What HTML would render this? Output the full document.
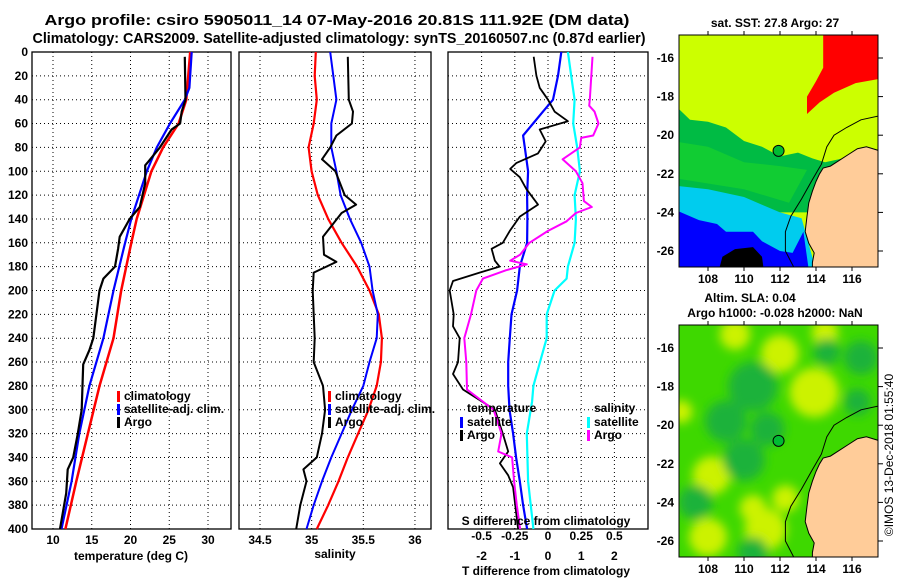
<!DOCTYPE html>
<html><head><meta charset="utf-8"><style>
body{margin:0;background:#fff}
svg{display:block;font-family:"Liberation Sans",sans-serif;font-weight:bold}
</style></head><body>
<svg id="c" width="900" height="580" viewBox="0 0 900 580">
<defs><filter id="blur" x="-50%" y="-50%" width="200%" height="200%"><feGaussianBlur stdDeviation="5"/></filter>
<clipPath id="clip1"><rect x="679" y="35" width="199" height="232"/></clipPath>
<clipPath id="clip2"><rect x="679" y="325" width="199" height="232"/></clipPath></defs>
<text x="337" y="25" font-size="15" text-anchor="middle" textLength="585" lengthAdjust="spacingAndGlyphs">Argo profile: csiro 5905011_14 07-May-2016 20.81S 111.92E (DM data)</text>
<text x="339" y="43" font-size="15" text-anchor="middle" textLength="613" lengthAdjust="spacingAndGlyphs">Climatology: CARS2009. Satellite-adjusted climatology: synTS_20160507.nc (0.87d earlier)</text>
</svg>
<script>
// ---- data ----
const tClimDepth=[0,40,60,80,100,140,160,200,240,280,320,360,400];
const tClimVal=[27.7,27.2,26.2,24.2,22.7,20.8,20.1,18.8,17.8,16.0,14.5,13.0,11.6];
const tSatDepth=[0,30,40,60,80,100,140,160,200,240,280,320,360,400];
const tSatVal=[27.9,27.6,27.0,25.1,23.4,22.1,20.1,19.3,17.8,16.5,14.7,13.4,12.4,11.1];
const tArgoDepth=[4,40,50,60,65,80,92,95,110,130,140,155,165,180,190,200,220,240,250,262,300,320,340,350,370,400];
const tArgoVal=[27.0,27.1,26.6,26.4,25.3,23.8,22.3,21.9,21.9,21.2,19.9,18.6,18.4,18.0,16.5,16.0,15.6,15.2,14.7,13.9,13.7,13.2,12.6,11.9,11.7,10.9];
const sDepth=[0,20,40,60,80,100,120,140,160,180,200,220,240,260,280,300,320,340,360,380,400];
const sClimVal=[35.04,35.03,35.05,35.02,34.97,35.0,35.06,35.16,35.29,35.44,35.56,35.65,35.68,35.67,35.63,35.55,35.45,35.35,35.26,35.16,35.05];
const sSatVal=[35.18,35.21,35.24,35.19,35.19,35.24,35.28,35.37,35.48,35.56,35.59,35.64,35.63,35.56,35.5,35.39,35.29,35.19,35.1,35.02,34.95];
const sArgoDepth=[4,40,50,60,70,80,90,100,120,128,135,145,155,170,176,185,200,240,260,280,300,320,340,350,360,380,400];
const sArgoVal=[35.35,35.36,35.4,35.39,35.24,35.18,35.10,35.23,35.32,35.43,35.29,35.2,35.11,35.12,35.24,35.02,35.01,35.03,35.02,35.11,35.13,35.10,35.05,34.92,34.95,34.89,34.85];
const dTSatDepth=[0,20,40,50,60,70,80,100,120,140,160,180,200,220,240,260,280,300,320,340,360,380,400];
const dTSatVal=[0.40,0.30,0.15,-0.15,-0.45,-0.75,-0.70,-0.60,-0.63,-0.62,-0.63,-0.85,-0.93,-1.1,-1.15,-1.2,-1.2,-1.16,-1.05,-0.96,-0.85,-0.75,-0.63];
const dTArgoDepth=[4,20,30,40,50,58,65,75,85,93,98,105,115,128,138,150,160,165,175,180,185,192,200,220,230,240,260,270,283,300,320,335,345,355,365,400];
const dTArgoVal=[-0.43,-0.35,-0.25,0,0.2,0.6,-0.25,-0.07,-0.3,-0.95,-1.14,-0.85,-0.65,-0.3,-0.85,-1.15,-1.36,-1.7,-1.6,-1.46,-2.06,-2.86,-2.96,-2.84,-2.86,-2.66,-2.71,-2.86,-2.56,-1.6,-1.36,-1.2,-1.45,-1.2,-1.05,-0.9];
const dSSatDepth=[0,20,40,60,80,100,120,140,160,180,190,200,220,240,260,280,293,320,360,400];
const dSSatVal=[0.15,0.175,0.2,0.19,0.22,0.24,0.2,0.21,0.2,0.15,0.14,0.05,-0.01,-0.01,-0.06,-0.11,-0.12,-0.16,-0.15,-0.11];
const dSArgoDepth=[4,40,45,50,60,70,72,80,90,100,110,125,130,135,142,150,160,170,175,178,183,190,200,220,240,260,283,300,320,335,340,360,380,400];
const dSArgoVal=[0.335,0.315,0.31,0.35,0.38,0.34,0.25,0.24,0.11,0.21,0.26,0.27,0.33,0.21,0.14,0,-0.14,-0.21,-0.285,-0.16,-0.315,-0.49,-0.54,-0.58,-0.63,-0.615,-0.61,-0.41,-0.35,-0.375,-0.27,-0.255,-0.235,-0.21];
const depthTicks=[0,20,40,60,80,100,120,140,160,180,200,220,240,260,280,300,320,340,360,380,400];
const tTicks=[10,15,20,25,30];
const sTicks=[34.5,35,35.5,36];
const sTickLabels=["34.5","35","35.5","36"];
const dTTicks=[-2,-1,0,1,2];
const dSTicks=[-0.5,-0.25,0,0.25,0.5];
const dSTickLabels=["-0.5","-0.25","0","0.25","0.5"];
const lonTicks=[108,110,112,114,116];
const latTicks=[-16,-18,-20,-22,-24,-26];
const argoLon=111.92, argoLat=-20.81;

// ---- scales ----
const Y=d=>52+d*477/400;
const XT=t=>53+(t-10)*7.75;
const XS=s=>260+(s-34.5)*103.3;
const XD=t=>548+t*33.2;
const XDS=s=>548+s*132.8;
const MX=lon=>708+(lon-108)*18;
const MY1=lat=>58+(-16-lat)*19.3;
const MY2=lat=>348+(-16-lat)*19.3;
const svg=document.getElementById('c');
const NS='http://www.w3.org/2000/svg';
function mk(tag,a,parent){const e=document.createElementNS(NS,tag);for(const k in a)e.setAttribute(k,a[k]);(parent||svg).appendChild(e);return e;}
function txt(x,y,s,size,anchor){const e=mk('text',{x:x,y:y,'font-size':size,'text-anchor':anchor||'middle'});e.textContent=s;return e;}

function panel(name,x0,x1,xTicks,xf){
  const yb=Y(400);
  for(const d of depthTicks){ if(d===0||d===400)continue;
    const g=mk('line',{x1:x0,x2:x1,y1:Y(d),y2:Y(d),stroke:'#000','stroke-dasharray':'1,3'});
    
    }
  for(const v of xTicks){const g=mk('line',{x1:xf(v),x2:xf(v),y1:52,y2:yb,stroke:'#000','stroke-dasharray':'1,3'});
    
    }
  const r=mk('rect',{x:x0,y:52,width:x1-x0,height:yb-52,fill:'none',stroke:'#000','stroke-width':1.3});
  
  
}
function line(name,depths,vals,xf,color,w){
  const pts=depths.map((d,i)=>xf(vals[i]).toFixed(1)+','+Y(d).toFixed(1)).join(' ');
  const p=mk('polyline',{points:pts,fill:'none',stroke:color,'stroke-width':w||2,'stroke-linejoin':'round'});
  
  
}
function leg(name,x,y,color,label){
  const m=mk('rect',{x:x,y:y-9,width:3,height:11,fill:color});
  
  
  const t=txt(x+7,y,label,12,'start');
  
  
}

// panel 1
panel('temperature-panel',32,231,tTicks,XT);
line('temperature-climatology-line',tClimDepth,tClimVal,XT,'#f00',2.5);
line('temperature-satellite-line',tSatDepth,tSatVal,XT,'#00f',2.2);
line('temperature-argo-line',tArgoDepth,tArgoVal,XT,'#000',2.2);
for(const d of depthTicks){const t=txt(28,Y(d)+4,String(d),12,'end');
  
  }
for(const v of tTicks){const t=txt(XT(v),544,String(v),12);
  
  }
let t1=txt(131,560,'temperature (deg C)',12);


leg('legend-climatology',117,400,'#f00','climatology');
leg('legend-satellite-adj',117,413,'#00f','satellite-adj. clim.');
leg('legend-argo',117,426,'#000','Argo');

// panel 2
panel('salinity-panel',239,431,sTicks,XS);
line('salinity-climatology-line',sDepth,sClimVal,XS,'#f00',2.2);
line('salinity-satellite-line',sDepth,sSatVal,XS,'#00f',2);
line('salinity-argo-line',sArgoDepth,sArgoVal,XS,'#000',2);
sTicks.forEach((v,i)=>{const t=txt(XS(v),544,sTickLabels[i],12);
  
  });
let t2=txt(335,558,'salinity',12);


leg('legend2-climatology',328,400,'#f00','climatology');
leg('legend2-satellite-adj',328,413,'#00f','satellite-adj. clim.');
leg('legend2-argo',328,426,'#000','Argo');

// panel 3
panel('difference-panel',448,648,dTTicks,XD);
line('t-diff-satellite-line',dTSatDepth,dTSatVal,XD,'#00f',2.2);
line('t-diff-argo-line',dTArgoDepth,dTArgoVal,XD,'#000',1.8);
line('s-diff-satellite-line',dSSatDepth,dSSatVal,XDS,'#0ff',2.2);
line('s-diff-argo-line',dSArgoDepth,dSArgoVal,XDS,'#f0f',2);
dTTicks.forEach(v=>{const t=txt(XD(v),560,String(v),12);
  
  });
dSTicks.forEach((v,i)=>{const t=txt(XDS(v),540,dSTickLabels[i],12);
  
  });
let t3=txt(546,525,'S difference from climatology',12);


let t4=txt(546,575,'T difference from climatology',12);


let t5=txt(467,412,'temperature',12,'start');


let t6=txt(594,412,'salinity',12,'start');


leg('legend3-t-satellite',460,426,'#00f','satellite');
leg('legend3-t-argo',460,439,'#000','Argo');
leg('legend3-s-satellite',587,426,'#0ff','satellite');
leg('legend3-s-argo',587,439,'#f0f','Argo');

// ---- maps ----
const coast=[[117.5,-20.8],[116.8,-20.6],[116.3,-20.7],[115.8,-21],[115.3,-21.3],[114.8,-21.6],[114.4,-21.7],[114.2,-22],[114.0,-22.4],[113.8,-22.9],[113.6,-23.5],[113.5,-24.2],[113.4,-25],[113.6,-25.6],[113.9,-26.1],[113.8,-26.6],[113.8,-27],[117.5,-27]];
const isobath=[[117.5,-19.0],[116.5,-19.2],[115.7,-19.6],[115,-20],[114.6,-20.6],[114.3,-21.5],[113.8,-22.3],[113.2,-23.3],[112.6,-24.2],[112.3,-25],[112.3,-26],[112.8,-26.9]];
function poly(pts,my){return pts.map(p=>MX(p[0]).toFixed(1)+','+my(p[1]).toFixed(1)).join(' ');}

function mapFrame(name,y0,my){
  const r=mk('rect',{x:679,y:y0,width:199,height:232,fill:'none',stroke:'#000','stroke-width':1});
  
  
  for(const lon of lonTicks){
    mk('line',{x1:MX(lon),x2:MX(lon),y1:y0-4,y2:y0,stroke:'#000'});
    mk('line',{x1:MX(lon),x2:MX(lon),y1:y0+232,y2:y0+236,stroke:'#000'});
    const t=txt(MX(lon),y0+248,String(lon),12);
    
    }
  for(const lat of latTicks){
    mk('line',{x1:878,x2:883,y1:my(lat),y2:my(lat),stroke:'#000'});
    const t=txt(674,my(lat)+4,String(lat),12,'end');
    
    }
  const c=mk('circle',{cx:MX(argoLon),cy:my(argoLat),r:5.5,fill:'#00bb33',stroke:'#000','stroke-width':1});
  
  
}
// top map
{
  const g=mk('g',{'clip-path':'url(#clip1)'});
  
  
  mk('rect',{x:679,y:35,width:199,height:232,fill:'#ccff00'},g);
  mk('polygon',{points:poly([[114.4,-14],[118,-14],[118,-17],[116.2,-17.3],[115,-17.8],[114.2,-18.3],[113.5,-18.9],[113.5,-18],[114,-17.2],[114.4,-16.5]],MY1),fill:'#f00'},g);
  mk('polygon',{points:poly([[106,-18.3],[107,-19.2],[108,-19.3],[109,-19.6],[110,-20.3],[111,-20.6],[112,-21.1],[113,-20.9],[113.8,-21.2],[114.5,-21.4],[115.5,-21.2],[114,-24],[106,-24]],MY1),fill:'#00bb44'},g);
  mk('polygon',{points:poly([[106,-20.3],[108,-20.6],[110,-21.4],[112,-21.6],[113.5,-21.8],[112.5,-23.5],[110,-22.8],[106,-22.2]],MY1),fill:'#11cc33'},g);
  mk('polygon',{points:poly([[106,-22.6],[108,-22.8],[110,-23.2],[111,-23.6],[112,-24],[113.2,-24.3],[114,-27],[106,-27]],MY1),fill:'#00ccee'},g);
  mk('polygon',{points:poly([[106,-23.8],[107.5,-24.4],[108.5,-24.6],[109,-25],[110.5,-25],[111,-25.5],[112,-26],[112.7,-26.1],[113.3,-25],[113.6,-27],[106,-27]],MY1),fill:'#0000ff'},g);
  mk('polygon',{points:poly([[108.8,-26.3],[109.5,-25.9],[110.5,-25.8],[111,-26.3],[111.1,-27],[108.6,-27]],MY1),fill:'#000'},g);
  mk('polygon',{points:poly(coast,MY1),fill:'#ffcc99',stroke:'#000','stroke-width':1},g);
  mk('polyline',{points:poly(isobath,MY1),fill:'none',stroke:'#000','stroke-width':1},g);
  mapFrame('sst-map',35,MY1);
  const t=txt(775,27,'sat. SST: 27.8 Argo: 27',12);
  
  
}
// bottom map
{
  const g=mk('g',{'clip-path':'url(#clip2)'});
  
  
  mk('rect',{x:679,y:325,width:199,height:232,fill:'#3ed800'},g);
  const blobs=mk('g',{filter:'url(#blur)'},g);
  const yel=[[113.9,-18.3,1.3],[108.2,-22.6,1.0],[112,-16.3,1.0],[111.2,-25.4,1.1],[108,-25.8,1.0],[112.3,-23.8,0.7],[106.5,-19.3,0.6],[109.5,-15.3,0.8],[114.5,-15.2,0.7],[110.5,-24.3,0.7]];
  const drk=[[110.5,-18,1.3],[109,-19.8,1.1],[110,-21.8,1.1],[111.3,-20.2,0.9],[116.5,-16.5,0.9],[114.6,-16.2,0.7],[107.3,-24,0.9],[110.5,-26.6,0.8],[116.3,-18.8,0.7]];
  for(const b of yel)mk('circle',{cx:MX(b[0]),cy:MY2(b[1]),r:b[2]*19,fill:'#ccf200'},blobs);
  for(const b of drk)mk('circle',{cx:MX(b[0]),cy:MY2(b[1]),r:b[2]*19,fill:'#1fb23a'},blobs);
  mk('polygon',{points:poly(coast,MY2),fill:'#ffcc99',stroke:'#000','stroke-width':1},g);
  mk('polyline',{points:poly(isobath,MY2),fill:'none',stroke:'#000','stroke-width':1},g);
  mapFrame('sla-map',325,MY2);
  const a=txt(750,302,'Altim. SLA: 0.04',12);
  
  
  const b=txt(775,317,'Argo h1000: -0.028 h2000: NaN',12);
  
  
}
const cr=txt(0,0,'©IMOS 13-Dec-2018 01:55:40',12);
cr.setAttribute('transform','translate(893,455) rotate(-90)');
cr.setAttribute('font-weight','normal');


</script>
</body></html>
